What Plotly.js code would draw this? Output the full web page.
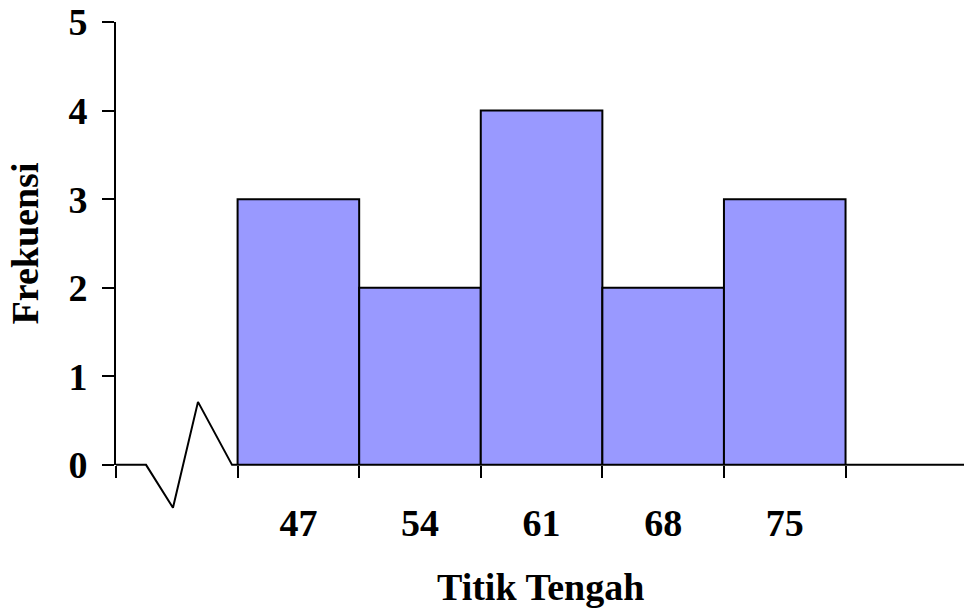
<!DOCTYPE html>
<html>
<head>
<meta charset="utf-8">
<script src="https://cdn.plot.ly/plotly-3.0.1.min.js"></script>
<style>body{margin:0;background:#fff}#chart{width:964px;height:610px}</style>
</head>
<body>
<div id="chart"></div>
<script>
// data
const midpoints = [47, 54, 61, 68, 75];
const tickLabels = ['47', '54', '61', '68', '75'];
const frequencies = [3, 2, 4, 2, 3];
const classWidth = 7;
const classEdges = [36.5, 43.5, 50.5, 57.5, 64.5, 71.5, 78.5];
const yTicks = [0, 1, 2, 3, 4, 5];
// axis-break decoration (zigzag + baseline)
const breakX = [36.5, 38.23, 39.78, 41.22, 43.18, 85.32];
const breakY = [0, 0, -0.485, 0.711, 0, 0];

const xRange = [36.5, 85.32];
const yRange = [0, 5];
const yRangeDeco = [-0.6, 5];

const font = {family: 'Liberation Serif, Times New Roman, serif', size: 38, color: '#000', weight: 700};

const traces = [
  {type: 'bar', x: midpoints, y: frequencies, width: classWidth, xaxis: 'x', yaxis: 'y',
   marker: {color: '#9999FF', line: {color: '#000', width: 2}},
   hoverinfo: 'skip', showlegend: false},
  {type: 'scatter', mode: 'markers', x: midpoints, y: frequencies, xaxis: 'x2', yaxis: 'y',
   marker: {opacity: 0}, hoverinfo: 'skip', showlegend: false},
  {type: 'scatter', mode: 'lines', x: breakX, y: breakY, xaxis: 'x3', yaxis: 'y2',
   line: {color: '#000', width: 2}, hoverinfo: 'skip', showlegend: false}
];

const layout = {
  width: 964, height: 610,
  margin: {l: 116, r: 0, t: 22, b: 92},
  paper_bgcolor: '#fff', plot_bgcolor: 'rgba(0,0,0,0)',
  font: font,
  bargap: 0,
  xaxis: {range: xRange, domain: [0, 1], anchor: 'y', tickvals: classEdges, showticklabels: false,
          ticks: 'outside', ticklen: 12, tickwidth: 2, tickcolor: '#000',
          showline: false, showgrid: false, zeroline: false, fixedrange: true},
  xaxis2: {range: xRange, overlaying: 'x', side: 'bottom', anchor: 'y',
           tickvals: midpoints, ticktext: tickLabels, ticks: '', showline: false,
           showgrid: false, zeroline: false, ticklabelstandoff: 32, tickfont: font},
  yaxis: {range: yRange, domain: [0.1069, 1], anchor: 'x', tickvals: yTicks,
          ticks: 'outside', ticklen: 12, tickwidth: 2,
          tickcolor: '#000', showline: true, linecolor: '#000', linewidth: 2,
          showgrid: false, zeroline: false, tickfont: font, ticklabelstandoff: 7,
          title: {text: 'Frekuensi', font: font, standoff: 18}},
  xaxis3: {range: xRange, domain: [0, 1], anchor: 'y2', visible: false},
  yaxis2: {range: yRangeDeco, domain: [0, 1], anchor: 'x3', visible: false},
  annotations: [
    {text: 'Titik Tengah', xref: 'paper', yref: 'paper', x: 0.5, y: -0.139,
     xanchor: 'center', yanchor: 'middle', showarrow: false, font: font}
  ]
};

Plotly.newPlot('chart', traces, layout, {staticPlot: true, displayModeBar: false});
</script>
</body>
</html>
